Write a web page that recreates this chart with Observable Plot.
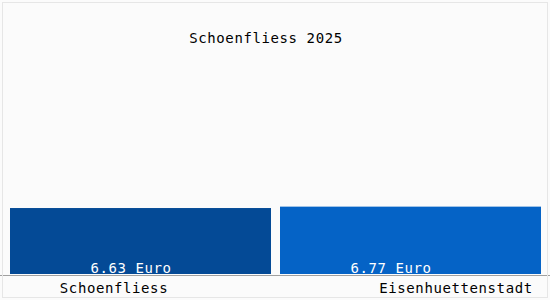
<!DOCTYPE html>
<html>
<head>
<meta charset="utf-8">
<script src="https://cdn.jsdelivr.net/npm/d3@7"></script>
<script src="https://cdn.jsdelivr.net/npm/@observablehq/plot@0.6"></script>
<style>
  html, body { margin: 0; padding: 0; background: #fbfbfb; }
  #wrap { position: relative; width: 550px; height: 300px; overflow: hidden; }
  #border { position: absolute; left: 2px; top: 2px; width: 544px; height: 294px; border: 1px solid #e6e6e6; pointer-events: none; }
  svg { font-family: "DejaVu Sans Mono", monospace; }
  svg text { letter-spacing: 0.6px; }
</style>
</head>
<body>
<div id="wrap"><div id="border"></div></div>
<script>
const title = "Schoenfliess 2025";
const categories = ["Schoenfliess", "Eisenhuettenstadt"];
const values = [6.63, 6.77];
const valueLabels = ["6.63 Euro", "6.77 Euro"];
const colors = ["#044a96", "#0563c6"];

const data = categories.map((c, i) => ({category: c, value: values[i], label: valueLabels[i]}));
const font = {fontFamily: "DejaVu Sans Mono, monospace", fontSize: 14};

const chart = Plot.plot({
  width: 550,
  height: 300,
  marginTop: 75,
  marginBottom: 26,
  marginLeft: 10,
  marginRight: 9,
  style: {background: "transparent", overflow: "visible"},
  x: {domain: categories, paddingInner: 0.034, paddingOuter: 0, axis: null},
  y: {domain: [0, 20], axis: null},
  color: {domain: categories, range: colors},
  marks: [
    Plot.barY(data, {x: "category", y: "value", fill: "category"}),
    Plot.ruleY([0], {stroke: "#a0a0a0", strokeWidth: 1, dy: 1, insetLeft: -10, insetRight: -9}),
    Plot.text(data.filter(d => d.category === categories[0]), {x: "category", y: 0, text: "label", fill: "white", dy: -6, dx: -10, lineAnchor: "middle", ...font}),
    Plot.text(data.filter(d => d.category === categories[1]), {x: "category", y: 0, text: "label", fill: "white", dy: -6, dx: -20, lineAnchor: "middle", ...font}),
    Plot.text(data.filter(d => d.category === categories[0]), {x: "category", y: 0, text: "category", fill: "black", dy: 14, dx: -27, lineAnchor: "middle", ...font}),
    Plot.text(data.filter(d => d.category === categories[1]), {x: "category", y: 0, text: "category", fill: "black", dy: 14, dx: 45, lineAnchor: "middle", ...font}),
    Plot.text([title], {frameAnchor: "top", text: d => d, fill: "black", dy: -37, dx: -10, lineAnchor: "middle", ...font})
  ]
});
document.getElementById("wrap").prepend(chart);
</script>
</body>
</html>
